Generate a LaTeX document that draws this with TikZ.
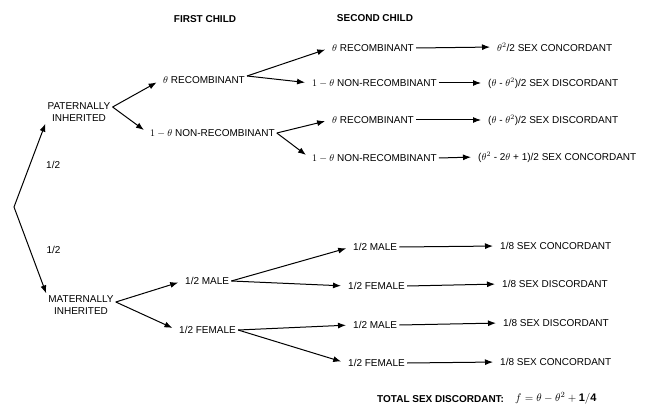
\documentclass[tikz,border=0pt]{standalone}
\usepackage{fontspec}
\setmainfont{Liberation Sans}
\usetikzlibrary{arrows.meta}

\tikzset{
	lbl/.style={font=\fontsize{10}{12}\selectfont, inner sep=2pt},
	head/.style={font=\fontsize{10}{12}\selectfont\bfseries, inner sep=2pt},
	arr/.style={-{Latex[length=8pt,width=6pt]}, line width=1pt, shorten >=5pt}
}

\begin{document}
\begin{tikzpicture}[x=1pt, y=-1pt]
	\useasboundingbox (0, 0) rectangle (645, 406);
	\node[head] (first) at (205, 19) {FIRST CHILD};
	\node[head] (second) at (375, 18) {SECOND CHILD};

	\coordinate (root) at (14, 207);
	\node[lbl, align=center] (pat) at (79, 112) {PATERNALLY\\INHERITED};
	\node[lbl, align=center] (mat) at (81, 305) {MATERNALLY\\INHERITED};
	\draw[arr, shorten >=0pt] (root) -- node[lbl, anchor=west, xshift=14pt] {1/2} (pat.south west);
	\draw[arr, shorten >=0pt] (root) -- node[lbl, anchor=west, xshift=14pt] {1/2} (mat.north west);

	% paternal side
	\node[lbl, anchor=west] (rec) at (161, 80) {$\theta$ RECOMBINANT};
	\node[lbl, anchor=west] (non) at (148, 133) {$1-\theta$ NON-RECOMBINANT};
	\draw[arr] ([yshift=5pt]pat.east) -- (rec.west);
	\draw[arr] ([yshift=5pt]pat.east) -- (non.west);

	\node[lbl, anchor=west] (rr) at (330, 48) {$\theta$ RECOMBINANT};
	\node[lbl, anchor=west] (rn) at (310, 83) {$1-\theta$ NON-RECOMBINANT};
	\node[lbl, anchor=west] (nr) at (330, 120) {$\theta$ RECOMBINANT};
	\node[lbl, anchor=west] (nn) at (310, 158) {$1-\theta$ NON-RECOMBINANT};
	\draw[arr] ([yshift=4pt]rec.east) -- (rr.west);
	\draw[arr] ([yshift=4pt]rec.east) -- (rn.west);
	\draw[arr] (non.east) -- (nr.west);
	\draw[arr] (non.east) -- (nn.west);

	\node[lbl, anchor=west] (p1) at (495, 47) {$\theta^2$/2 SEX CONCORDANT};
	\node[lbl, anchor=west] (p2) at (486, 83) {($\theta$ - $\theta^2$)/2 SEX DISCORDANT};
	\node[lbl, anchor=west] (p3) at (486, 120) {($\theta$ - $\theta^2$)/2 SEX DISCORDANT};
	\node[lbl, anchor=west] (p4) at (476, 157) {($\theta^2$ - 2$\theta$ + 1)/2 SEX CONCORDANT};
	\draw[arr] (rr.east) -- (p1.west);
	\draw[arr] (rn.east) -- (p2.west);
	\draw[arr] (nr.east) -- (p3.west);
	\draw[arr] (nn.east) -- (p4.west);

	% maternal side
	\node[lbl, anchor=west] (male) at (183, 281) {1/2 MALE};
	\node[lbl, anchor=west] (female) at (177, 330) {1/2 FEMALE};
	\draw[arr] ([yshift=3pt]mat.east) -- (male.west);
	\draw[arr] ([yshift=3pt]mat.east) -- (female.west);

	\node[lbl, anchor=west] (mm) at (351, 247) {1/2 MALE};
	\node[lbl, anchor=west] (mf) at (346, 286) {1/2 FEMALE};
	\node[lbl, anchor=west] (fm) at (351, 325) {1/2 MALE};
	\node[lbl, anchor=west] (ff) at (346, 363) {1/2 FEMALE};
	\draw[arr] (male.east) -- (mm.west);
	\draw[arr] (male.east) -- (mf.west);
	\draw[arr] (female.east) -- (fm.west);
	\draw[arr] (female.east) -- (ff.west);

	\node[lbl, anchor=west] (q1) at (498, 246) {1/8 SEX CONCORDANT};
	\node[lbl, anchor=west] (q2) at (500, 284) {1/8 SEX DISCORDANT};
	\node[lbl, anchor=west] (q3) at (501, 323) {1/8 SEX DISCORDANT};
	\node[lbl, anchor=west] (q4) at (498, 362) {1/8 SEX CONCORDANT};
	\draw[arr] (mm.east) -- (q1.west);
	\draw[arr] (mf.east) -- (q2.west);
	\draw[arr] (fm.east) -- (q3.west);
	\draw[arr] (ff.east) -- (q4.west);

	\node[head, anchor=west] (total) at (375, 399) {TOTAL SEX DISCORDANT:};
	\node[lbl, anchor=west, font=\fontsize{11}{13}\selectfont] (sum) at (513, 398) {$f = \theta - \theta^2 + \mathbf{1/4}$};
\end{tikzpicture}
\end{document}
